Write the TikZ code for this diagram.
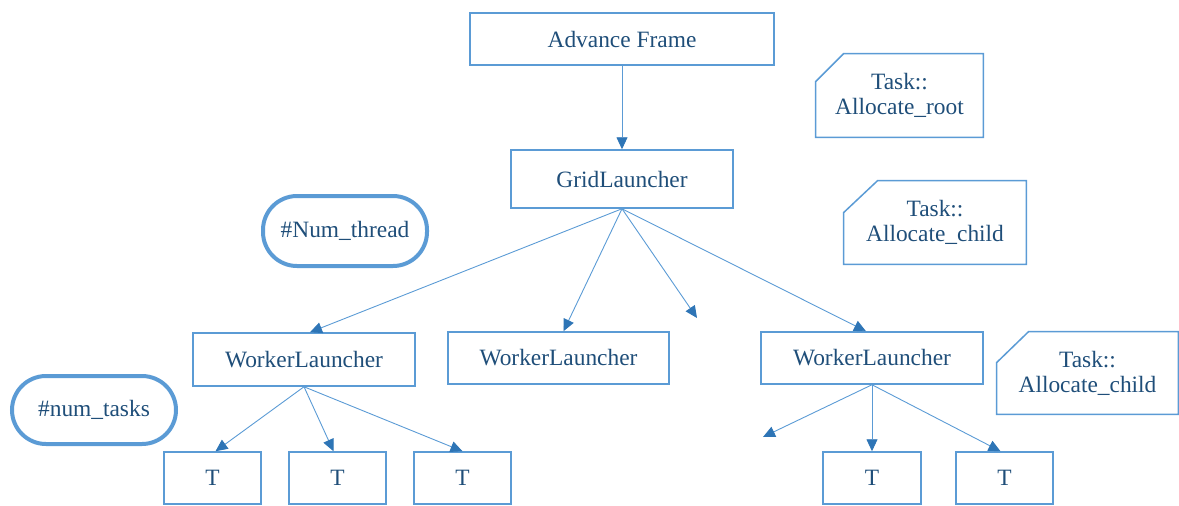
\documentclass[tikz,border=0pt]{standalone}
\usepackage{fontspec}
\setmainfont{Liberation Serif}
\usetikzlibrary{arrows.meta}
\definecolor{boxblue}{HTML}{5B9BD5}
\definecolor{tipblue}{HTML}{2E75B6}
\definecolor{txtblue}{HTML}{1F4E79}
\tikzset{
  lbl/.style={font=\fontsize{11.7pt}{12.5pt}\selectfont, text=txtblue, align=center, inner sep=0pt},
  box/.style={lbl, draw=boxblue, line width=0.75pt},
  pill/.style={lbl, draw=boxblue, line width=2pt, rounded corners=17pt},
  link/.style={draw=boxblue, line width=0.45pt,
    -{Triangle[length=6pt,width=5.5pt,color=tipblue]}},
  notebox/.style={draw=boxblue, line width=0.75pt},
}
\begin{document}
\begin{tikzpicture}[x=0.5pt,y=-0.5pt]
\useasboundingbox (0,0) rectangle (1179,505);

% main tree
\node[box, minimum width=152pt, minimum height=26pt] (af) at (622,39) {Advance Frame};
\node[box, minimum width=111pt, minimum height=29pt] (gl) at (622,179) {GridLauncher};

\node[box, minimum width=111pt, minimum height=26.5pt] (wl1) at (304,359.5) {WorkerLauncher};
\node[box, minimum width=110.5pt, minimum height=26pt] (wl2) at (558.5,358) {WorkerLauncher};
\node[box, minimum width=111pt, minimum height=26pt] (wl3) at (872,358) {WorkerLauncher};

\node[box, minimum width=48.5pt, minimum height=26pt] (t1) at (212.5,478) {T};
\node[box, minimum width=48.5pt, minimum height=26pt] (t2) at (337.5,478) {T};
\node[box, minimum width=48.5pt, minimum height=26pt] (t3) at (462.5,478) {T};
\node[box, minimum width=49pt, minimum height=26pt] (t4) at (872,478) {T};
\node[box, minimum width=48.5pt, minimum height=26pt] (t5) at (1004.5,478) {T};

% counters
\node[pill, minimum width=82pt, minimum height=35pt] (nth) at (345,231) {\#Num\_thread};
\node[pill, minimum width=82pt, minimum height=34pt] (ntk) at (94,410) {\#num\_tasks};

% task notes (cut corner boxes)
\node[lbl, minimum width=83.5pt, minimum height=41.5pt] (ar) at (899.5,95.5) {Task::\\Allocate\_root};
\draw[notebox] ([xshift=14pt]ar.north west) -- (ar.north east) -- (ar.south east)
  -- (ar.south west) -- ([yshift=-14pt]ar.north west) -- cycle;
\node[lbl, minimum width=91pt, minimum height=41.5pt] (ac1) at (935,222.5) {Task::\\Allocate\_child};
\draw[notebox] ([xshift=17pt]ac1.north west) -- (ac1.north east) -- (ac1.south east)
  -- (ac1.south west) -- ([yshift=-16pt]ac1.north west) -- cycle;
\node[lbl, minimum width=90.5pt, minimum height=41pt] (ac2) at (1087.5,373) {Task::\\Allocate\_child};
\draw[notebox] ([xshift=16pt]ac2.north west) -- (ac2.north east) -- (ac2.south east)
  -- (ac2.south west) -- ([yshift=-15.5pt]ac2.north west) -- cycle;

% dangling ends
\coordinate (gx) at (697,318);
\coordinate (wx) at (763,437);

% connectors
\draw[link] (af.south) -- (gl.north);
\draw[link] (gl.south) -- ([xshift=3pt]wl1.north);
\draw[link] (gl.south) -- ([xshift=2.5pt]wl2.north);
\draw[link] (gl.south) -- (gx);
\draw[link] (gl.south) -- ([xshift=-3pt]wl3.north);

\draw[link] (wl1.south) -- ([xshift=1.5pt]t1.north);
\draw[link] (wl1.south) -- ([xshift=-2pt]t2.north);
\draw[link] (wl1.south) -- (t3.north);

\draw[link] (wl3.south) -- (wx);
\draw[link] (wl3.south) -- (t4.north);
\draw[link] (wl3.south) -- ([xshift=-2pt]t5.north);
\end{tikzpicture}
\end{document}
